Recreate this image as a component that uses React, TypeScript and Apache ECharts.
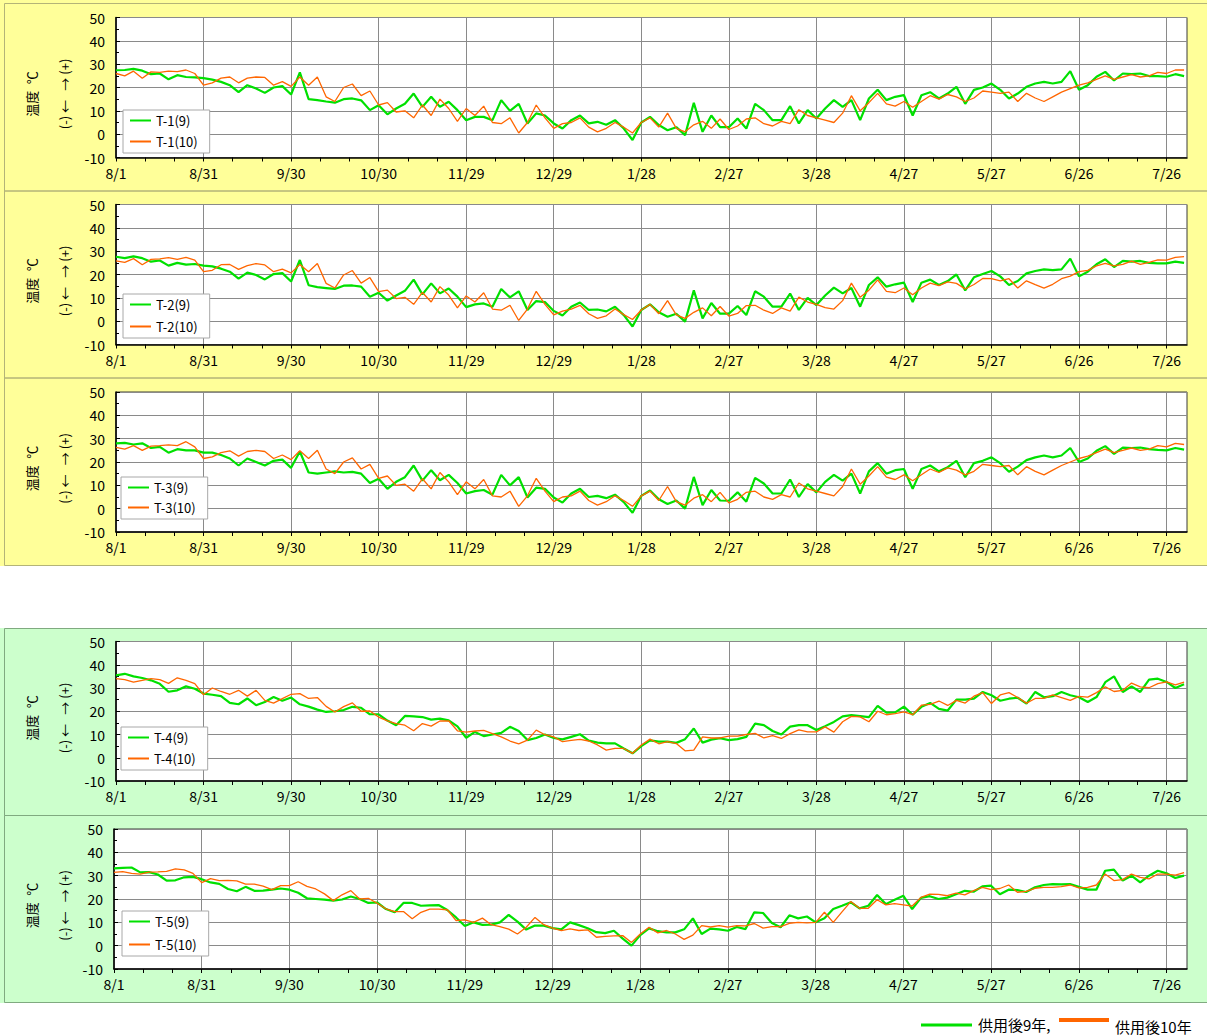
import React, { useEffect, useRef } from 'react';
import * as echarts from 'echarts';

// ---------- data ----------
const DAY_STEP = 3; // one reading every 3 days, starting 8/1
const DAY_COUNT = 368; // x categories: day 0 (8/1) .. day 367
const DATE_LABELS = ['8/1', '8/31', '9/30', '10/30', '11/29', '12/29', '1/28', '2/27', '3/28', '4/27', '5/27', '6/26', '7/26'];

const T1_9 = [27.4, 27.5, 28, 27.2, 25.7, 26, 23.5, 25.3, 24.5, 24.3,
  24, 23.4, 22.4, 21, 18, 21, 19.6, 17.7, 20, 20.6,
  17, 26.5, 15, 14.6, 14, 13.5, 15, 15.3, 14.5, 10.3,
  12.4, 8.5, 11, 13, 17.4, 11.7, 16, 11.7, 13.9, 10.3,
  6, 7.4, 7.4, 6, 14.6, 10, 13, 4.6, 8.9, 8,
  4.6, 2.4, 6, 8, 4.6, 5.3, 4, 6, 2.4, -2.5,
  5, 7.4, 3.9, 1.7, 3, -0.4, 13.4, 1, 8, 3,
  3, 6.7, 2.4, 13, 10.3, 6, 6, 12, 4.6, 10.3,
  6.7, 11, 14.6, 11.7, 14.6, 6, 15.3, 19, 14.6, 16,
  16.7, 8, 16.7, 18, 15.3, 17.4, 20.3, 13, 19, 20,
  21.7, 19, 15.3, 17.4, 20.3, 21.7, 22.4, 21.7, 22.4, 27,
  19, 21, 24.6, 26.7, 23, 26, 25.7, 26, 24.9, 24.9,
  24.6, 25.7, 24.9];
const T1_10 = [26, 25, 27, 24, 26.7, 26.5, 27, 26.8, 27.5, 26,
  21, 22, 24, 24.5, 22, 24, 24.5, 24.3, 21, 22.5,
  20.5, 24.5, 21, 24.5, 16, 14, 20, 21.5, 16.5, 18.5,
  12.5, 13.5, 9.5, 10, 7, 12.5, 8, 15, 11, 5.5,
  11, 8, 12, 5, 4.5, 7, 0.5, 5, 12.5, 7,
  2.5, 4.5, 5, 7, 3, 1, 2.5, 5, 3, 0.5,
  5, 7, 3, 9, 2.5, 1, 4, 5.5, 2.5, 6.5,
  2, 3.5, 6.5, 7, 4.5, 3.5, 5.5, 4.5, 10.5, 8,
  7, 6, 5, 9, 16.5, 10, 13.5, 17.5, 13, 12,
  14, 11.5, 14, 16.5, 15, 17, 16, 14, 15.5, 18.5,
  18, 17.5, 18, 14, 17.5, 15.5, 14, 16, 18, 19.5,
  21, 22, 23.5, 25, 23.5, 24.5, 25.5, 24.5, 25, 26.5,
  26, 27.5, 27.5];

const T2_9 = [27.6, 27, 27.8, 27, 25.5, 26, 23.8, 25, 24.2, 24.5,
  23.8, 23.5, 22.5, 21.2, 18.2, 20.8, 19.8, 17.9, 20.2, 20.6,
  17, 26.2, 15.4, 14.6, 14.2, 13.8, 15.2, 15.3, 14.8, 10.5,
  12.2, 8.8, 11, 13, 17.8, 11.5, 16.2, 11.9, 14, 10.5,
  6, 7.2, 7.6, 6.2, 13.8, 10.2, 12.8, 4.8, 8.6, 8.2,
  4.4, 2.4, 6.2, 8, 4.8, 5, 4.2, 6.2, 2.6, -2.3,
  4.8, 7.2, 3.8, 1.9, 3.2, -0.2, 13.2, 1.2, 7.8, 3.2,
  3.2, 6.5, 2.6, 12.8, 10.5, 6.2, 6.2, 11.8, 4.8, 10,
  6.9, 11, 14.4, 11.9, 14.2, 6.2, 15.5, 18.8, 14.8, 15.8,
  16.5, 8.2, 16.5, 17.8, 15.5, 17.2, 20, 13.2, 18.8, 20.2,
  21.5, 19.2, 15.5, 17.2, 20.5, 21.5, 22.2, 21.9, 22.2, 26.8,
  19.2, 21.2, 24.4, 26.5, 23.2, 25.8, 25.5, 25.8, 25, 24.8,
  24.8, 25.5, 25];
const T2_10 = [25.8, 25.2, 26.8, 24.2, 26.5, 26.7, 27.2, 26.5, 27.3, 26.2,
  21.2, 21.8, 24.2, 24.3, 22.2, 23.8, 24.7, 24.1, 21.2, 22.3,
  20.7, 24.3, 21.2, 24.7, 16.2, 14.2, 19.8, 21.7, 16.3, 18.7,
  12.7, 13.3, 9.7, 10.2, 7.2, 12.3, 8.2, 14.8, 11.2, 5.7,
  10.8, 8.2, 12.2, 5.2, 4.7, 6.8, 0.3, 5.2, 12.8, 7.2,
  2.7, 4.3, 5.2, 6.8, 3.2, 1.2, 2.3, 5.2, 2.8, 0.7,
  4.8, 7.2, 3.2, 8.8, 2.7, 1.2, 3.8, 5.7, 2.3, 6.3,
  2.2, 3.3, 6.7, 6.8, 4.7, 3.3, 5.7, 4.3, 10.3, 8.2,
  7.2, 5.8, 5.2, 8.8, 16.3, 10.2, 13.3, 17.7, 12.8, 12.2,
  14.2, 11.3, 14.2, 16.3, 15.2, 16.8, 16.2, 13.8, 15.7, 18.3,
  18.2, 17.3, 18.2, 14.2, 17.3, 15.7, 14.2, 15.8, 18.2, 19.3,
  21.2, 21.8, 23.7, 24.8, 23.7, 24.3, 25.7, 24.3, 25.2, 26.3,
  26.2, 27.3, 27.7];

const T3_9 = [28, 28.2, 27.5, 28, 26, 26.5, 24, 25.5, 25, 25,
  24, 24, 23, 21.5, 18.5, 21.5, 20, 18.5, 20.5, 21,
  17.5, 24.5, 15.5, 15, 15.5, 16, 15.5, 15.8, 15, 11,
  12.8, 8.5, 11.5, 13.5, 18.5, 12, 16.5, 12.2, 14.5, 11,
  6.5, 7.5, 8, 6, 14.5, 10, 13.5, 4.8, 9, 8.5,
  4.8, 2.6, 6.5, 8.5, 5, 5.5, 4.5, 6, 2.8, -1.8,
  5.5, 7.8, 4, 2, 3.5, 0, 13.6, 1.5, 8, 3.5,
  3.4, 7, 3, 13.2, 10.8, 6.5, 6.5, 12.5, 5, 10.5,
  7, 11.5, 14.5, 12, 15, 6.5, 16, 19.5, 15, 16.5,
  17, 8.5, 17, 18.5, 16, 17.8, 20.5, 13.5, 19.5, 20.5,
  22, 19.5, 15.8, 18, 20.8, 22, 22.8, 22, 22.8, 26,
  20, 21.5, 24.8, 26.8, 23.5, 26.2, 26, 26.2, 25.5, 25.2,
  25, 26, 25.3];
const T3_10 = [26.3, 25.5, 27, 25, 26.8, 27, 27.3, 27, 28.7, 26.5,
  21.5, 22.2, 24, 24.8, 22.5, 24.5, 25, 24.5, 21.5, 23,
  21, 24.8, 21.5, 25, 17, 15, 20, 21.8, 17, 19,
  13, 14, 10, 10.5, 7.5, 12.8, 8.5, 15.5, 11.5, 6,
  11.5, 8.5, 12.5, 5.5, 5, 7.5, 1, 5.5, 13, 7.5,
  3, 5, 5.5, 7.5, 3.5, 1.5, 3, 5.5, 3.5, 1,
  5.5, 7.5, 3.5, 9.5, 3, 1.5, 4.5, 6, 3, 7,
  2.5, 4, 7, 7.5, 5, 4, 6, 5, 11, 8.5,
  7.5, 6.5, 5.5, 9.5, 17, 10.5, 14, 18, 13.5, 12.5,
  14.5, 12, 14.5, 17, 15.5, 17.5, 16.5, 14.5, 16, 19,
  18.5, 18, 18.5, 14.5, 18, 16, 14.5, 16.5, 18.5, 20,
  21.5, 22.5, 24, 25.5, 24, 25, 26, 25, 25.5, 27,
  26.5, 28, 27.5];

const T4_9 = [35.4, 36.1, 35, 34.3, 33.3, 31.8, 28.4, 29, 30.7, 29.7,
  27.6, 27.1, 26.5, 23.6, 23, 25.5, 22.6, 24, 26.1, 24.5,
  25.9, 23, 22, 20.7, 19.7, 20, 20.5, 21.9, 21.5, 18.7,
  18.7, 16, 14, 18, 17.8, 17.5, 16.4, 16.8, 16.1, 13.5,
  8.6, 11.1, 9.3, 10, 10.7, 13.3, 11.5, 7.6, 8.5, 10,
  8.5, 7.9, 9, 10.1, 7.4, 6.5, 6.2, 6.2, 4, 1.9,
  5, 7.5, 6.9, 6.9, 6.4, 8, 12.6, 6.5, 7.8, 8.4,
  7.6, 8, 9, 14.7, 14, 11.5, 10, 13.4, 14, 14,
  11.9, 13.6, 15.4, 17.8, 18.3, 17.9, 17.5, 22.3, 19.4, 19.5,
  22, 18.5, 21.9, 23.6, 21, 20.3, 25, 25, 25.4, 28.3,
  26.9, 24.5, 25.4, 25.8, 23.3, 28.3, 26, 26.5, 28.3, 26.9,
  26, 24, 26.1, 32.5, 35, 28.3, 30.7, 28.3, 33.6, 34,
  32.6, 30, 31.6];
const T4_10 = [34, 33.6, 32.5, 33.3, 34, 33.6, 32, 34.4, 33.3, 31.9,
  27.1, 30, 28.5, 27.3, 29, 26.5, 29, 24.7, 23.5, 25.4,
  27.3, 27.6, 25.5, 25.9, 22.1, 19.7, 22, 23.6, 20, 20.1,
  17.5, 15.9, 14.7, 14, 11.6, 14.7, 13.6, 15.8, 15.9, 11.6,
  11, 11.5, 11.8, 10.4, 9, 7.2, 6, 7.6, 11.9, 9.9,
  9, 6.9, 7.5, 7.9, 7.2, 5.5, 3.3, 4, 4, 1.9,
  5.5, 8, 6, 6.9, 6.1, 3, 3.3, 9, 8.5, 8.5,
  9.3, 9.3, 10, 10.5, 8.5, 9.5, 8.3, 10.4, 12, 11.1,
  11.1, 13.3, 11, 15.5, 17.8, 17.6, 15.5, 20, 18.5, 19,
  19.7, 18.5, 22.6, 23, 24.4, 22.5, 24.7, 23.5, 26.5, 28,
  23.3, 27, 28, 25.9, 23.5, 25.5, 25.5, 27, 25.9, 24.7,
  26.4, 26.1, 28, 30.5, 28.5, 29, 32.1, 30.5, 30.1, 31.9,
  32.6, 31.3, 32.5];

const T5_9 = [33.1, 33.3, 33.5, 31.4, 31.5, 30.5, 27.9, 28, 29.3, 29.5,
  28.5, 27.1, 26.5, 24.3, 23.3, 25.2, 23.5, 23.6, 24, 24.5,
  24, 22.7, 20.3, 20, 19.7, 19.3, 19.8, 21.1, 20, 18.3,
  18.5, 15.7, 14.3, 18.3, 18.3, 17.1, 17.3, 17.4, 15.3, 12.1,
  8.4, 10, 8.9, 9, 10, 13.2, 10.3, 6.9, 8.6, 8.6,
  7.5, 7, 10, 8.8, 7.5, 5.8, 5.4, 6.4, 3, 0,
  4.5, 7.4, 6.2, 5.7, 5.7, 7, 11.7, 5, 7.3, 7,
  6.4, 8, 7.1, 14.3, 14, 9.7, 7.9, 13, 11.7, 12.5,
  10, 11.7, 15.7, 17.1, 18.6, 16, 17.1, 21.7, 17.8, 19.7,
  21.4, 15.7, 20.5, 21.2, 20, 20.6, 22, 23.5, 23.1, 25.4,
  25.7, 22, 24, 23.8, 23, 25, 26, 26.4, 26.3, 26.4,
  25.2, 24, 24, 32.1, 32.6, 27.9, 30, 27.1, 30, 32.1,
  31, 29, 30];
const T5_10 = [31.4, 31.7, 31, 30.7, 31.5, 31.6, 31.8, 32.9, 32.5, 31,
  27, 28.7, 27.9, 28, 27.8, 26.4, 26.4, 25.5, 24, 25.7,
  25.7, 27.4, 25.4, 24.3, 22.2, 19.3, 21.8, 23.6, 20, 20.3,
  18.2, 15.8, 14.6, 14.6, 11.5, 14.3, 15.7, 15.7, 15.4, 10.7,
  11.1, 10, 11.8, 9, 8.2, 7.1, 5, 7.9, 12.1, 9,
  7.5, 6.4, 7.2, 6.5, 6.8, 3.6, 4, 4.2, 4.3, 1.4,
  5, 7.9, 5.5, 6.5, 5, 2.7, 4.5, 8.6, 8, 8.6,
  7.9, 8.6, 8.5, 9.5, 7.5, 8.2, 8.2, 9.6, 10, 9.8,
  10, 14.3, 10, 14.5, 18.9, 16, 16, 19.7, 17.5, 18,
  17.5, 17, 20.7, 22.1, 22, 21.4, 22.5, 21.8, 23.6, 25,
  24, 24.5, 26, 22.9, 23.3, 24.6, 25, 25, 25.3, 26,
  24.8, 25, 26, 30.7, 27.9, 28.3, 30.7, 29.3, 28.6, 30.7,
  30.7, 30.2, 31.3];

const PANEL_NAMES = ['T-1', 'T-2', 'T-3', 'T-4', 'T-5'];
const SERIES_9 = [T1_9, T2_9, T3_9, T4_9, T5_9];
const SERIES_10 = [T1_10, T2_10, T3_10, T4_10, T5_10];
const BOTTOM_LEGEND = ['供用後9年,', '供用後10年'];
const Y_TITLE = '温度\u2002℃';
const Y_DIRECTION = '(-)\u00a0←\u2002\u00a0→\u00a0(+)';

// ---------- layout / style ----------
const FONT = "'Noto Sans CJK JP', 'Noto Sans', sans-serif";
const GREEN = '#00e000';
const ORANGE = '#ff6600';
const GRIDS = [
  { left: 116, top: 17.5, width: 1071, height: 140 },
  { left: 116, top: 204.5, width: 1071, height: 140 },
  { left: 116, top: 392, width: 1071, height: 140 },
  { left: 116, top: 641.5, width: 1071, height: 139.5 },
  { left: 114, top: 829, width: 1073, height: 140 },
];
const LEGENDS = [
  { left: 123, top: 110, gap: 8 },
  { left: 123, top: 294, gap: 9 },
  { left: 121, top: 477, gap: 7 },
  { left: 121, top: 727, gap: 8 },
  { left: 122, top: 911, gap: 10 },
];

const toPairs = (vals: number[]) => vals.map((v, i) => [i * DAY_STEP, v]);

export default function App() {
  const ref = useRef<HTMLDivElement>(null);

  useEffect(() => {
    if (!ref.current) return;
    const chart = echarts.init(ref.current, undefined, { renderer: 'svg' });
    const dayCats = Array.from({ length: DAY_COUNT }, (_, i) => String(i));

    const grid = GRIDS.map((g) => ({
      ...g,
      show: true,
      backgroundColor: '#ffffff',
      borderColor: '#3a3a3a',
      borderWidth: 1,
      containLabel: false,
    }));

    const xAxis = GRIDS.map((_, k) => ({
      gridIndex: k,
      type: 'category',
      boundaryGap: false,
      data: dayCats,
      axisLine: { show: true, onZero: false, lineStyle: { color: '#000', width: 1.5 } },
      axisTick: { show: true, interval: 9, length: 4, lineStyle: { color: '#000' } },
      axisLabel: {
        interval: 29,
        color: '#000',
        fontSize: 14,
        fontFamily: FONT,
        margin: 8,
        formatter: (_v: string, idx: number) => (idx % 30 === 0 && DATE_LABELS[idx / 30]) || '',
      },
      splitLine: { show: true, interval: 29, lineStyle: { color: '#8a8a8a', width: 1 } },
    }));

    const yAxis = GRIDS.map((_, k) => ({
      gridIndex: k,
      type: 'value',
      min: -10,
      max: 50,
      interval: 10,
      axisLine: { show: true, lineStyle: { color: '#000', width: 1.5 } },
      axisTick: { show: true, inside: true, length: 4, lineStyle: { color: '#000' } },
      minorTick: { show: true, splitNumber: 2, length: 3, lineStyle: { color: '#000' } },
      axisLabel: { color: '#000', fontSize: 14, fontFamily: FONT, margin: 11 },
      splitLine: { show: true, lineStyle: { color: '#8a8a8a', width: 1 } },
    }));

    const series: any[] = [];
    PANEL_NAMES.forEach((nm, k) => {
      series.push({
        type: 'line',
        name: `${nm}(9)`,
        xAxisIndex: k,
        yAxisIndex: k,
        data: toPairs(SERIES_9[k]),
        symbol: 'none',
        lineStyle: { color: GREEN, width: 2.2 },
        itemStyle: { color: GREEN },
      });
      series.push({
        type: 'line',
        name: `${nm}(10)`,
        xAxisIndex: k,
        yAxisIndex: k,
        data: toPairs(SERIES_10[k]),
        symbol: 'none',
        lineStyle: { color: ORANGE, width: 1.3 },
        itemStyle: { color: ORANGE },
      });
    });

    const legend = PANEL_NAMES.map((nm, k) => ({
      orient: 'vertical',
      left: LEGENDS[k].left,
      top: LEGENDS[k].top,
      data: [`${nm}(9)`, `${nm}(10)`],
      backgroundColor: '#ffffff',
      borderColor: '#a8a8a8',
      borderWidth: 1,
      padding: [4, 12, 5, 6],
      itemGap: LEGENDS[k].gap,
      itemWidth: 21,
      itemHeight: 14,
      selectedMode: false,
      itemStyle: { opacity: 0 },
      textStyle: { fontSize: 13, color: '#000', fontFamily: FONT },
    }));

    const graphic: any[] = [
      { type: 'rect', z: -20, silent: true, shape: { x: 0, y: 0, width: 1207, height: 566 }, style: { fill: '#ffff99' } },
      { type: 'rect', z: -20, silent: true, shape: { x: 0, y: 628, width: 1207, height: 375 }, style: { fill: '#ccffcc' } },
      { type: 'rect', z: -19, silent: true, shape: { x: 4.5, y: 3.5, width: 1215, height: 187.5 }, style: { fill: 'none', stroke: '#b4b478', lineWidth: 1 } },
      { type: 'rect', z: -19, silent: true, shape: { x: 4.5, y: 191, width: 1215, height: 187 }, style: { fill: 'none', stroke: '#b4b478', lineWidth: 1 } },
      { type: 'rect', z: -19, silent: true, shape: { x: 4.5, y: 378, width: 1215, height: 187.5 }, style: { fill: 'none', stroke: '#b4b478', lineWidth: 1 } },
      { type: 'rect', z: -19, silent: true, shape: { x: 4.5, y: 628.5, width: 1215, height: 187 }, style: { fill: 'none', stroke: '#80aa80', lineWidth: 1 } },
      { type: 'rect', z: -19, silent: true, shape: { x: 4.5, y: 815.5, width: 1215, height: 187 }, style: { fill: 'none', stroke: '#80aa80', lineWidth: 1 } },
    ];
    GRIDS.forEach((g) => {
      const cy = g.top + 76.5;
      graphic.push({
        type: 'text', x: 31, y: cy, rotation: Math.PI / 2,
        style: { text: Y_TITLE, fontSize: 13, fontFamily: FONT, fill: '#000', align: 'center', verticalAlign: 'middle' },
      });
      graphic.push({
        type: 'text', x: 64, y: cy, rotation: Math.PI / 2,
        style: { text: Y_DIRECTION, fontSize: 13, fontFamily: FONT, fill: '#000', align: 'center', verticalAlign: 'middle' },
      });
    });
    graphic.push(
      { type: 'line', shape: { x1: 921, y1: 1025, x2: 972, y2: 1025 }, style: { stroke: GREEN, lineWidth: 3 } },
      { type: 'text', x: 978, y: 1024, style: { text: BOTTOM_LEGEND[0], fontSize: 15, fontFamily: FONT, fill: '#000', align: 'left', verticalAlign: 'middle' } },
      { type: 'line', shape: { x1: 1059, y1: 1020, x2: 1109, y2: 1020 }, style: { stroke: ORANGE, lineWidth: 4 } },
      { type: 'text', x: 1115, y: 1026, style: { text: BOTTOM_LEGEND[1], fontSize: 15, fontFamily: FONT, fill: '#000', align: 'left', verticalAlign: 'middle' } },
    );

    chart.setOption({
      animation: false,
      backgroundColor: '#ffffff',
      textStyle: { fontFamily: FONT },
      grid,
      xAxis,
      yAxis,
      legend,
      series,
      graphic,
    });

    return () => chart.dispose();
  }, []);

  return (
    <div
      ref={ref}
      style={{ position: 'absolute', left: 0, top: 0, width: 1207, height: 1035 }}
    />
  );
}
